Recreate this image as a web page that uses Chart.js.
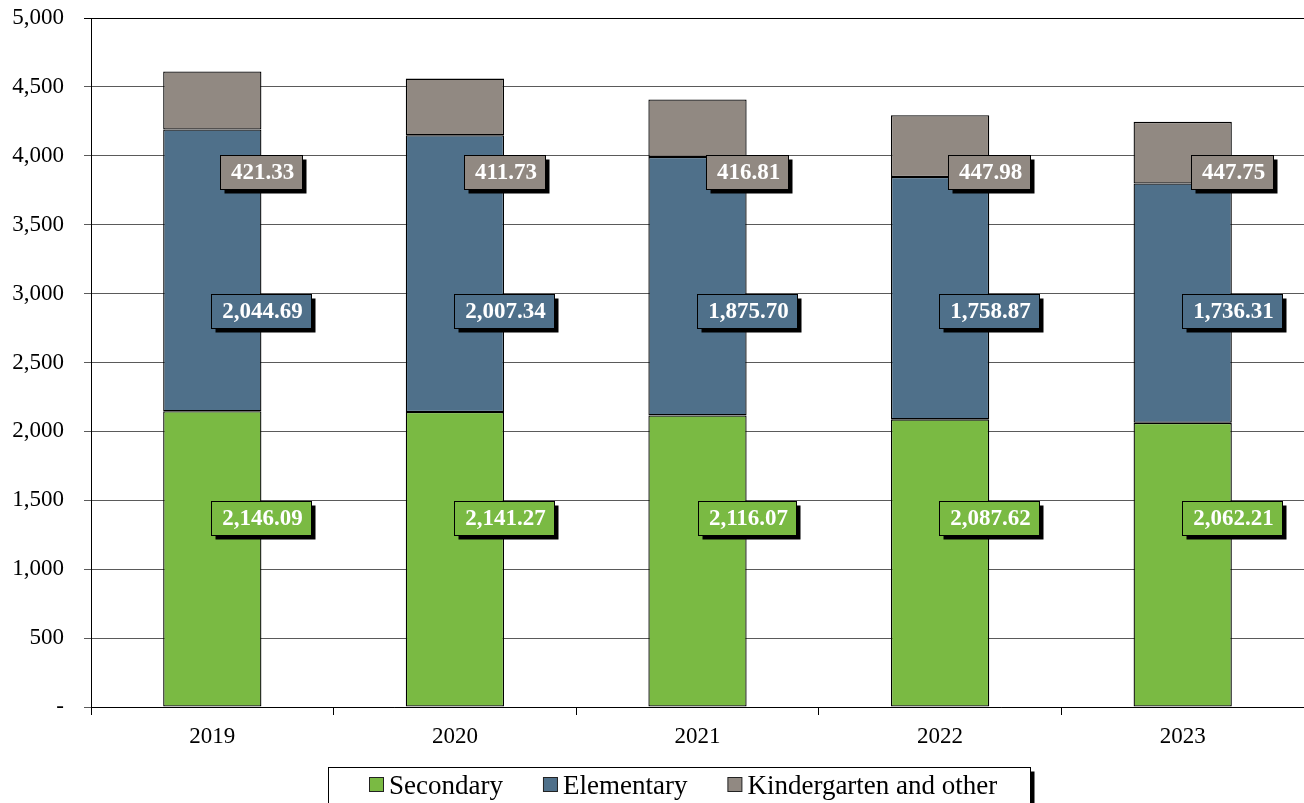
<!DOCTYPE html>
<html>
<head>
<meta charset="utf-8">
<script src="https://cdn.jsdelivr.net/npm/chart.js@4/dist/chart.umd.min.js"></script>
<style>
  html, body { margin: 0; padding: 0; background: #fff; }
  #wrap { width: 1304px; height: 803px; position: relative; overflow: hidden; }
</style>
</head>
<body>
<div id="wrap"><canvas id="chart" width="1304" height="803"></canvas></div>
<script>
// Enrolment by level, 2019–2023
const years = ['2019', '2020', '2021', '2022', '2023'];
const secondary = [2146.09, 2141.27, 2116.07, 2087.62, 2062.21];
const elementary = [2044.69, 2007.34, 1875.70, 1758.87, 1736.31];
const kindergarten = [421.33, 411.73, 416.81, 447.98, 447.75];
const yTicks = [0, 500, 1000, 1500, 2000, 2500, 3000, 3500, 4000, 4500, 5000];

const SERIF = '"Liberation Serif", "Times New Roman", serif';
Chart.defaults.font.family = SERIF;
Chart.defaults.color = '#000';

const fmt2 = v => v.toLocaleString('en-US', { minimumFractionDigits: 2, maximumFractionDigits: 2 });
const fmtAxis = v => v === 0 ? '-' : v.toLocaleString('en-US');

// Boxed value labels with a hard drop shadow, placed at the right edge of each bar
const valueBoxes = {
  id: 'valueBoxes',
  afterDatasetsDraw(chart) {
    const ctx = chart.ctx;
    const ys = chart.scales.y;
    ctx.save();
    ctx.font = 'bold 23px ' + SERIF;
    ctx.textAlign = 'center';
    ctx.textBaseline = 'middle';
    chart.data.datasets.forEach((ds, di) => {
      const meta = chart.getDatasetMeta(di);
      meta.data.forEach((bar, i) => {
        const text = fmt2(ds.data[i]);
        const w = Math.round(ctx.measureText(text).width + 19);
        const h = 34;
        const cx = bar.x + bar.width / 2;
        const cy = ys.getPixelForValue(ds.labelAt);
        const x0 = Math.round(cx - w / 2) + 0.5;
        const y0 = Math.round(cy - h / 2) + 0.5;
        ctx.fillStyle = '#000';
        ctx.fillRect(x0 + 4, y0 + 4, w, h);
        ctx.fillStyle = ds.backgroundColor;
        ctx.fillRect(x0, y0, w, h);
        ctx.strokeStyle = '#000';
        ctx.lineWidth = 1;
        ctx.strokeRect(x0, y0, w, h);
        ctx.fillStyle = '#fff';
        ctx.fillText(text, x0 + w / 2 + 1, y0 + h / 2 + 1);
      });
    });
    ctx.restore();
  }
};

// Framed legend below the axis
const framedLegend = {
  id: 'framedLegend',
  afterDraw(chart) {
    const ctx = chart.ctx;
    const left = 328.5, top = 767.5, right = 1030.5, bottom = 812;
    ctx.save();
    ctx.fillStyle = '#000';
    ctx.fillRect(right, top + 4, 4, bottom - top);
    ctx.fillStyle = '#fff';
    ctx.fillRect(left, top, right - left, bottom - top);
    ctx.strokeStyle = '#000';
    ctx.lineWidth = 1;
    ctx.strokeRect(left, top, right - left, bottom - top);
    ctx.font = '27px ' + SERIF;
    ctx.textBaseline = 'middle';
    ctx.textAlign = 'left';
    let x = 369;
    const cy = 786;
    chart.data.datasets.forEach(ds => {
      ctx.fillStyle = ds.backgroundColor;
      ctx.fillRect(x + 0.5, cy - 8.5, 14, 14);
      ctx.strokeStyle = '#222';
      ctx.strokeRect(x + 0.5, cy - 8.5, 14, 14);
      ctx.fillStyle = '#000';
      ctx.fillText(ds.label, x + 20, cy + 1);
      x += 20 + ctx.measureText(ds.label).width + 40;
    });
    ctx.restore();
  }
};

const barStyle = {
  borderColor: '#000',
  borderWidth: 1.3,
  borderSkipped: false,
  barPercentage: 0.405,
  categoryPercentage: 1.0
};

new Chart(document.getElementById('chart'), {
  type: 'bar',
  data: {
    labels: years,
    datasets: [
      Object.assign({ label: 'Secondary', data: secondary, backgroundColor: '#7aba43', labelAt: 1372 }, barStyle),
      Object.assign({ label: 'Elementary', data: elementary, backgroundColor: '#4f708a', labelAt: 2874 }, barStyle),
      Object.assign({ label: 'Kindergarten and other', data: kindergarten, backgroundColor: '#918982', labelAt: 3885 }, barStyle)
    ]
  },
  options: {
    responsive: false,
    animation: false,
    devicePixelRatio: 1,
    layout: { padding: { top: 18, right: 0, bottom: 0, left: 0 } },
    plugins: {
      legend: { display: false },
      tooltip: { enabled: false }
    },
    scales: {
      x: {
        stacked: true,
        offset: true,
        grid: {
          offset: true,
          drawOnChartArea: false,
          drawTicks: true,
          tickLength: 8,
          color: '#000',
          lineWidth: 1
        },
        border: { color: '#000', width: 1 },
        ticks: { font: { size: 23 }, color: '#000', padding: 8 },
        afterFit(scale) {
          scale.height = 96;
          scale.paddingLeft = 0;
          scale.paddingRight = 0;
        }
      },
      y: {
        stacked: true,
        min: 0,
        max: 5000,
        afterBuildTicks(scale) { scale.ticks = yTicks.map(v => ({ value: v })); },
        grid: {
          color: ctx => (ctx.tick && ctx.tick.value === 5000) ? '#000' : '#5a5a5a',
          lineWidth: 1,
          tickLength: 7,
          drawTicks: true
        },
        border: { color: '#000', width: 1 },
        ticks: {
          font: { size: 23 },
          color: '#000',
          padding: 20,
          callback: v => fmtAxis(v)
        },
        afterFit(scale) {
          scale.width = 91;
          scale.paddingTop = 0;
          scale.paddingBottom = 0;
        }
      }
    }
  },
  plugins: [valueBoxes, framedLegend]
});
</script>
</body>
</html>
